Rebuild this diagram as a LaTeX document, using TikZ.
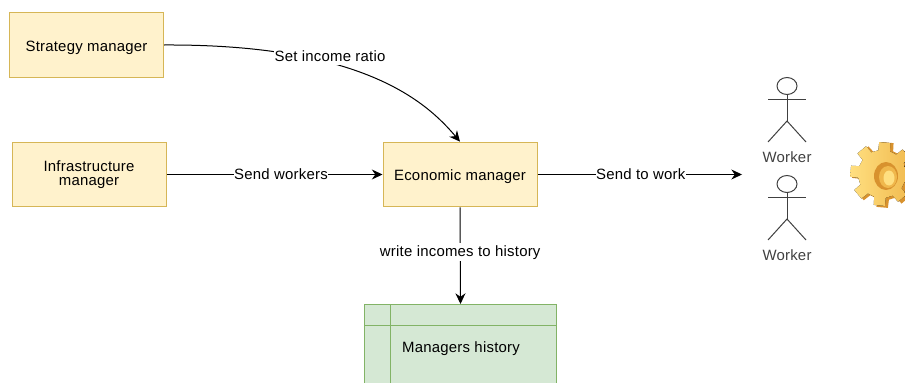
\documentclass[tikz,border=0pt]{standalone}
\usepackage{fontspec}
\setmainfont[LetterSpace=1.5]{Liberation Sans}
\usetikzlibrary{arrows.meta}
\definecolor{boxfill}{HTML}{FFF2CC}
\definecolor{boxline}{HTML}{D6B656}
\definecolor{tablefill}{HTML}{D5E8D4}
\definecolor{tableline}{HTML}{82B366}
\definecolor{geardark}{HTML}{D8922E}
\definecolor{gearmid}{HTML}{F0B84C}
\definecolor{gearlight}{HTML}{FFDF80}
\tikzset{
  manager/.style={draw=boxline, fill=boxfill, line width=0.75pt, minimum width=115.5pt, minimum height=48.5pt, align=center, inner sep=0pt, text height=9.4pt, text depth=0.4pt, font=\fontsize{11.2}{11.2}\selectfont},
  flowlabel/.style={fill=white, inner sep=0.4pt, text height=10pt, text depth=2.4pt, font=\fontsize{11.2}{13}\selectfont},
  flow/.style={line width=0.75pt, -{Stealth[length=8pt,width=7.5pt]}},
  actorline/.style={draw=black!75, line width=0.75pt},
  actorlabel/.style={text=black!75, inner sep=0pt, font=\fontsize{11.2}{13}\selectfont},
  gridline/.style={draw=tableline, line width=0.75pt}
}
\begin{document}
\begin{tikzpicture}[x=0.75pt, y=-0.75pt]
  \useasboundingbox (0,0) rectangle (905,382);
  \clip (0,0) rectangle (905,382);

  \node[manager] (strategy) at (86.5,45) {Strategy manager};
  \node[manager, text height=17.6pt] (infra) at (89,174.5) {Infrastructure\\manager};
  \node[manager, text height=9pt] (econ) at (460,174.5) {Economic manager};

  \fill[tablefill] (364,304) rectangle (556,390);
  \draw[gridline] (364,390) -- (364,304) -- (556,304) -- (556,390);
  \draw[gridline] (364,325) -- (556,325);
  \draw[gridline] (390,304) -- (390,390);
  \node[inner sep=0pt, font=\fontsize{11.2}{13}\selectfont] (history) at (461,349) {Managers history};
  \coordinate (historytop) at (460.5,304);
  \coordinate (workers) at (742,174.5);

  \draw[flow] (strategy.east) .. controls (360,44) and (425,100) .. (econ.north);
  \node[flowlabel] (ratio) at (330,56) {Set income ratio};
  \draw[flow] (infra.east) -- node[flowlabel, pos=0.53] (send) {Send workers} (econ.west);
  \draw[flow] (econ.east) -- node[flowlabel, pos=0.505] (work) {Send to work} (workers);
  \draw[flow] (econ.south) -- node[flowlabel, pos=0.46] (write) {write incomes to history} (historytop);

  \draw[actorline] (787,86) ellipse (10 and 8.5);
  \draw[actorline] (787,94.5) -- (787,121);
  \draw[actorline] (768,99) -- (806,99);
  \draw[actorline] (768,142) -- (787,121) -- (806,142);
  \node[actorlabel] (worker1) at (787,157) {Worker};

  \draw[actorline] (787,184) ellipse (10 and 8.5);
  \draw[actorline] (787,192.5) -- (787,219);
  \draw[actorline] (768,197) -- (806,197);
  \draw[actorline] (768,240) -- (787,219) -- (806,240);
  \node[actorlabel] (worker2) at (787,255) {Worker};

  \begin{scope}[shift={(885,175)}]
    \fill[geardark] (0:25) \foreach \a in {5,50,95,140,185,230,275,320} {
      -- (\a-14:25) -- (\a-10:33) -- (\a+10:33) -- (\a+14:25)
    } -- cycle;
    \fill[left color=gearlight, right color=gearmid, shift={(-3,-1)}] (-9:24) \foreach \a in {5,50,95,140,185,230,275,320} {
      -- (\a-14:24) -- (\a-10:32) -- (\a+10:32) -- (\a+14:24)
    } -- cycle;
    \fill[geardark] (1,1) ellipse (12 and 14);
    \fill[gearmid] (3,2) ellipse (9 and 11);
    \fill[gearlight] (4,3) ellipse (5.5 and 7.5);
  \end{scope}
\end{tikzpicture}
\end{document}
